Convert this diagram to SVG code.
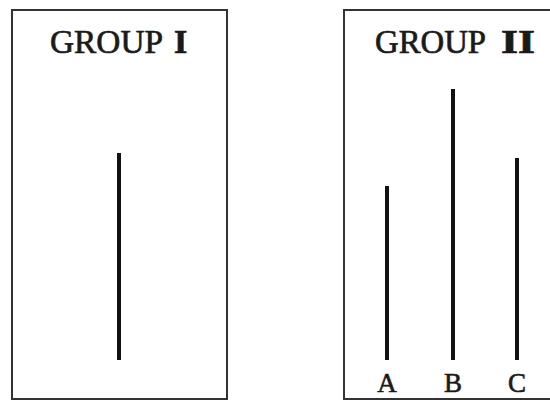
<svg xmlns="http://www.w3.org/2000/svg" width="550" height="400" viewBox="0 0 550 400">
<style>
.box{fill:#fff;stroke:#333;stroke-width:2}
.ln{stroke:#111;stroke-width:4;stroke-linecap:butt}
.t{font-family:"Liberation Serif","Times New Roman",serif;font-size:34px;fill:#1a1a1a;stroke:#1a1a1a;stroke-width:0.7}
.b{font-weight:bold}
.lab{font-family:"Liberation Serif","Times New Roman",serif;font-size:27px;fill:#1a1a1a;stroke:#1a1a1a;stroke-width:0.6;text-anchor:middle}
</style>
<rect width="550" height="400" fill="#fff"/>
<g id="group1">
<rect class="box" x="12" y="10" width="215" height="389"/>
<text class="t" y="53"><tspan x="50" textLength="113" lengthAdjust="spacingAndGlyphs">GROUP</tspan><tspan class="b" x="174">I</tspan></text>
<line class="ln" x1="119" y1="153" x2="119" y2="360"/>
</g>
<g id="group2">
<rect class="box" x="344" y="10" width="215" height="389"/>
<text class="t" y="53"><tspan x="375" textLength="111" lengthAdjust="spacingAndGlyphs">GROUP</tspan><tspan class="b" x="501" textLength="34" lengthAdjust="spacingAndGlyphs">II</tspan></text>
<line class="ln" x1="387" y1="186" x2="387" y2="360"/>
<line class="ln" x1="453" y1="89" x2="453" y2="360"/>
<line class="ln" x1="517" y1="158" x2="517" y2="360"/>
<text class="lab" x="387" y="392">A</text>
<text class="lab" x="453" y="392">B</text>
<text class="lab" x="517" y="392">C</text>
</g>
</svg>
